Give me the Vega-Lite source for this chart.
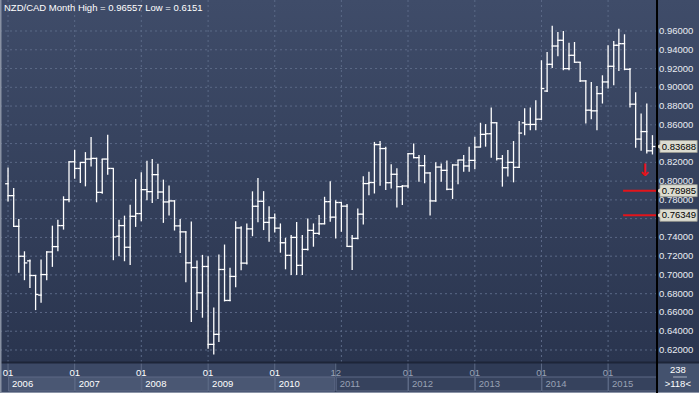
{
 "$schema": "https://vega.github.io/schema/vega-lite/v6.json",
 "padding": 0,
 "autosize": {"type": "none"},
 "width": 699,
 "height": 393,
 "background": "#2f3b56",
 "config": {"view": {"stroke": null}, "font": "Liberation Sans"},
 "view": {"stroke": null, "fill": {"gradient": "linear", "x1": 0, "y1": 0, "x2": 0, "y2": 1, "stops": [{"offset": 0, "color": "#3f4c69"}, {"offset": 0.92, "color": "#2a354f"}, {"offset": 1, "color": "#2a354f"}]}},
 "datasets": {
  "ohlc": [
   {"d":"2006-01-01","o":0.7972,"h":0.8146,"l":0.7784,"c":0.7845},
   {"d":"2006-02-01","o":0.7845,"h":0.7926,"l":0.7510,"c":0.7518},
   {"d":"2006-03-01","o":0.7518,"h":0.7596,"l":0.7022,"c":0.7199},
   {"d":"2006-04-01","o":0.7199,"h":0.7252,"l":0.6944,"c":0.7128},
   {"d":"2006-05-01","o":0.7150,"h":0.7164,"l":0.6862,"c":0.6994},
   {"d":"2006-06-01","o":0.6994,"h":0.7000,"l":0.6625,"c":0.6792},
   {"d":"2006-07-01","o":0.6785,"h":0.7164,"l":0.6703,"c":0.7004},
   {"d":"2006-08-01","o":0.7004,"h":0.7252,"l":0.6944,"c":0.7245},
   {"d":"2006-09-01","o":0.7245,"h":0.7525,"l":0.7086,"c":0.7302},
   {"d":"2006-10-01","o":0.7302,"h":0.7589,"l":0.7252,"c":0.7526},
   {"d":"2006-11-01","o":0.7526,"h":0.7838,"l":0.7483,"c":0.7802},
   {"d":"2006-12-01","o":0.7802,"h":0.8210,"l":0.7774,"c":0.8206},
   {"d":"2007-01-01","o":0.8206,"h":0.8334,"l":0.8026,"c":0.8135},
   {"d":"2007-02-01","o":0.8135,"h":0.8199,"l":0.7979,"c":0.8199},
   {"d":"2007-03-01","o":0.8199,"h":0.8309,"l":0.7944,"c":0.8235},
   {"d":"2007-04-01","o":0.8235,"h":0.8469,"l":0.8157,"c":0.8242},
   {"d":"2007-05-01","o":0.8242,"h":0.8250,"l":0.7774,"c":0.7880},
   {"d":"2007-06-01","o":0.7880,"h":0.8235,"l":0.7865,"c":0.8235},
   {"d":"2007-07-01","o":0.8235,"h":0.8494,"l":0.8068,"c":0.8135},
   {"d":"2007-08-01","o":0.8135,"h":0.8140,"l":0.7157,"c":0.7405},
   {"d":"2007-09-01","o":0.7412,"h":0.7589,"l":0.7199,"c":0.7526},
   {"d":"2007-10-01","o":0.7526,"h":0.7632,"l":0.7146,"c":0.7295},
   {"d":"2007-11-01","o":0.7295,"h":0.7749,"l":0.7107,"c":0.7625},
   {"d":"2007-12-01","o":0.7625,"h":0.8023,"l":0.7512,"c":0.7654},
   {"d":"2008-01-01","o":0.7654,"h":0.8094,"l":0.7572,"c":0.7909},
   {"d":"2008-02-01","o":0.7909,"h":0.8218,"l":0.7796,"c":0.7888},
   {"d":"2008-03-01","o":0.7888,"h":0.8235,"l":0.7767,"c":0.8069},
   {"d":"2008-04-01","o":0.8069,"h":0.8186,"l":0.7810,"c":0.7884},
   {"d":"2008-05-01","o":0.7884,"h":0.8016,"l":0.7555,"c":0.7778},
   {"d":"2008-06-01","o":0.7778,"h":0.7952,"l":0.7633,"c":0.7789},
   {"d":"2008-07-01","o":0.7789,"h":0.7795,"l":0.7473,"c":0.7523},
   {"d":"2008-08-01","o":0.7523,"h":0.7597,"l":0.7235,"c":0.7459},
   {"d":"2008-09-01","o":0.7459,"h":0.7465,"l":0.6923,"c":0.7129},
   {"d":"2008-10-01","o":0.7129,"h":0.7569,"l":0.6498,"c":0.7079},
   {"d":"2008-11-01","o":0.7079,"h":0.7154,"l":0.6626,"c":0.6810},
   {"d":"2008-12-01","o":0.6810,"h":0.7214,"l":0.6544,"c":0.7090},
   {"d":"2009-01-01","o":0.7090,"h":0.7200,"l":0.6214,"c":0.6260},
   {"d":"2009-02-01","o":0.6260,"h":0.6654,"l":0.6151,"c":0.6367},
   {"d":"2009-03-01","o":0.6367,"h":0.7218,"l":0.6285,"c":0.7058},
   {"d":"2009-04-01","o":0.7058,"h":0.7324,"l":0.6718,"c":0.6728},
   {"d":"2009-05-01","o":0.6728,"h":0.7076,"l":0.6720,"c":0.6984},
   {"d":"2009-06-01","o":0.6984,"h":0.7572,"l":0.6870,"c":0.7501},
   {"d":"2009-07-01","o":0.7501,"h":0.7519,"l":0.7051,"c":0.7126},
   {"d":"2009-08-01","o":0.7126,"h":0.7548,"l":0.7111,"c":0.7491},
   {"d":"2009-09-01","o":0.7491,"h":0.7891,"l":0.7413,"c":0.7732},
   {"d":"2009-10-01","o":0.7732,"h":0.8033,"l":0.7562,"c":0.7785},
   {"d":"2009-11-01","o":0.7785,"h":0.7893,"l":0.7478,"c":0.7560},
   {"d":"2009-12-01","o":0.7560,"h":0.7733,"l":0.7354,"c":0.7609},
   {"d":"2010-01-01","o":0.7609,"h":0.7655,"l":0.7453,"c":0.7499},
   {"d":"2010-02-01","o":0.7499,"h":0.7549,"l":0.7237,"c":0.7343},
   {"d":"2010-03-01","o":0.7343,"h":0.7396,"l":0.7060,"c":0.7209},
   {"d":"2010-04-01","o":0.7209,"h":0.7425,"l":0.6999,"c":0.7400},
   {"d":"2010-05-01","o":0.7400,"h":0.7563,"l":0.6999,"c":0.7102},
   {"d":"2010-06-01","o":0.7102,"h":0.7425,"l":0.6999,"c":0.7272},
   {"d":"2010-07-01","o":0.7272,"h":0.7602,"l":0.7260,"c":0.7475},
   {"d":"2010-08-01","o":0.7475,"h":0.7549,"l":0.7301,"c":0.7443},
   {"d":"2010-09-01","o":0.7443,"h":0.7638,"l":0.7425,"c":0.7545},
   {"d":"2010-10-01","o":0.7545,"h":0.7833,"l":0.7540,"c":0.7781},
   {"d":"2010-11-01","o":0.7781,"h":0.7999,"l":0.7567,"c":0.7616},
   {"d":"2010-12-01","o":0.7616,"h":0.7797,"l":0.7389,"c":0.7772},
   {"d":"2011-01-01","o":0.7772,"h":0.7776,"l":0.7460,"c":0.7733},
   {"d":"2011-02-01","o":0.7733,"h":0.7755,"l":0.7301,"c":0.7304},
   {"d":"2011-03-01","o":0.7304,"h":0.7425,"l":0.7053,"c":0.7389},
   {"d":"2011-04-01","o":0.7389,"h":0.7709,"l":0.7380,"c":0.7648},
   {"d":"2011-05-01","o":0.7648,"h":0.8052,"l":0.7538,"c":0.7974},
   {"d":"2011-06-01","o":0.7974,"h":0.8099,"l":0.7850,"c":0.7985},
   {"d":"2011-07-01","o":0.7985,"h":0.8418,"l":0.7868,"c":0.8389},
   {"d":"2011-08-01","o":0.8389,"h":0.8428,"l":0.7950,"c":0.8347},
   {"d":"2011-09-01","o":0.8347,"h":0.8365,"l":0.7904,"c":0.7983},
   {"d":"2011-10-01","o":0.7983,"h":0.8180,"l":0.7921,"c":0.8073},
   {"d":"2011-11-01","o":0.8073,"h":0.8136,"l":0.7718,"c":0.7941},
   {"d":"2011-12-01","o":0.7941,"h":0.7959,"l":0.7746,"c":0.7948},
   {"d":"2012-01-01","o":0.7948,"h":0.8296,"l":0.7923,"c":0.8292},
   {"d":"2012-02-01","o":0.8292,"h":0.8402,"l":0.8243,"c":0.8250},
   {"d":"2012-03-01","o":0.8250,"h":0.8278,"l":0.7994,"c":0.8165},
   {"d":"2012-04-01","o":0.8165,"h":0.8278,"l":0.7977,"c":0.8087},
   {"d":"2012-05-01","o":0.8087,"h":0.8095,"l":0.7633,"c":0.7789},
   {"d":"2012-06-01","o":0.7789,"h":0.8200,"l":0.7780,"c":0.8150},
   {"d":"2012-07-01","o":0.8150,"h":0.8189,"l":0.7994,"c":0.8115},
   {"d":"2012-08-01","o":0.8115,"h":0.8221,"l":0.7902,"c":0.7913},
   {"d":"2012-09-01","o":0.7913,"h":0.8179,"l":0.7810,"c":0.8172},
   {"d":"2012-10-01","o":0.8172,"h":0.8225,"l":0.7966,"c":0.8225},
   {"d":"2012-11-01","o":0.8225,"h":0.8278,"l":0.8101,"c":0.8161},
   {"d":"2012-12-01","o":0.8161,"h":0.8367,"l":0.8101,"c":0.8221},
   {"d":"2013-01-01","o":0.8221,"h":0.8473,"l":0.8126,"c":0.8363},
   {"d":"2013-02-01","o":0.8363,"h":0.8622,"l":0.8360,"c":0.8498},
   {"d":"2013-03-01","o":0.8498,"h":0.8608,"l":0.8367,"c":0.8505},
   {"d":"2013-04-01","o":0.8505,"h":0.8785,"l":0.8250,"c":0.8622},
   {"d":"2013-05-01","o":0.8622,"h":0.8625,"l":0.8221,"c":0.8239},
   {"d":"2013-06-01","o":0.8239,"h":0.8278,"l":0.7941,"c":0.8143},
   {"d":"2013-07-01","o":0.8143,"h":0.8331,"l":0.8048,"c":0.8200},
   {"d":"2013-08-01","o":0.8200,"h":0.8427,"l":0.7987,"c":0.8147},
   {"d":"2013-09-01","o":0.8147,"h":0.8640,"l":0.8140,"c":0.8512},
   {"d":"2013-10-01","o":0.8621,"h":0.8776,"l":0.8490,"c":0.8604},
   {"d":"2013-11-01","o":0.8604,"h":0.8784,"l":0.8543,"c":0.8604},
   {"d":"2013-12-01","o":0.8604,"h":0.8862,"l":0.8543,"c":0.8660},
   {"d":"2014-01-01","o":0.8660,"h":0.9288,"l":0.8655,"c":0.8987},
   {"d":"2014-02-01","o":0.8960,"h":0.9377,"l":0.8950,"c":0.9245},
   {"d":"2014-03-01","o":0.9245,"h":0.96557,"l":0.9206,"c":0.9440},
   {"d":"2014-04-01","o":0.9440,"h":0.9589,"l":0.9331,"c":0.9501},
   {"d":"2014-05-01","o":0.9501,"h":0.9600,"l":0.9182,"c":0.9199},
   {"d":"2014-06-01","o":0.9199,"h":0.9476,"l":0.9182,"c":0.9341},
   {"d":"2014-07-01","o":0.9341,"h":0.9483,"l":0.9263,"c":0.9267},
   {"d":"2014-08-01","o":0.9267,"h":0.9270,"l":0.9057,"c":0.9068},
   {"d":"2014-09-01","o":0.9068,"h":0.9075,"l":0.8614,"c":0.8756},
   {"d":"2014-10-01","o":0.8756,"h":0.9057,"l":0.8660,"c":0.8749},
   {"d":"2014-11-01","o":0.8749,"h":0.9015,"l":0.8543,"c":0.8933},
   {"d":"2014-12-01","o":0.8933,"h":0.9128,"l":0.8827,"c":0.9057},
   {"d":"2015-01-01","o":0.9057,"h":0.9448,"l":0.8987,"c":0.9224},
   {"d":"2015-02-01","o":0.9224,"h":0.9494,"l":0.9022,"c":0.9448},
   {"d":"2015-03-01","o":0.9448,"h":0.9625,"l":0.9174,"c":0.9465},
   {"d":"2015-04-01","o":0.9465,"h":0.9565,"l":0.9182,"c":0.9192},
   {"d":"2015-05-01","o":0.9192,"h":0.9206,"l":0.8784,"c":0.8820},
   {"d":"2015-06-01","o":0.8820,"h":0.8948,"l":0.8355,"c":0.8448},
   {"d":"2015-07-01","o":0.8448,"h":0.8721,"l":0.8323,"c":0.8528},
   {"d":"2015-08-01","o":0.8528,"h":0.8827,"l":0.8295,"c":0.8323},
   {"d":"2015-09-01","o":0.8323,"h":0.8490,"l":0.8284,"c":0.83688}
  ],
  "grid": [{"g":0.62},{"g":0.64},{"g":0.66},{"g":0.68},{"g":0.70},{"g":0.72},{"g":0.74},{"g":0.76},{"g":0.78},{"g":0.80},{"g":0.82},{"g":0.84},{"g":0.86},{"g":0.88},{"g":0.90},{"g":0.92},{"g":0.94},{"g":0.96}],
  "years": [
   {"y": "2006", "s": "2006-01-01", "e": "2007-01-01", "f": "a", "t": "01"},
   {"y": "2007", "s": "2007-01-01", "e": "2008-01-01", "f": "a", "t": "01"},
   {"y": "2008", "s": "2008-01-01", "e": "2009-01-01", "f": "a", "t": "01"},
   {"y": "2009", "s": "2009-01-01", "e": "2010-01-01", "f": "a", "t": "01"},
   {"y": "2010", "s": "2010-01-01", "e": "2010-11-26", "f": "a", "t": "01"},
   {"y": "2011", "s": "2010-12-01", "e": "2012-01-01", "f": "b", "t": "12"},
   {"y": "2012", "s": "2012-01-01", "e": "2013-01-01", "f": "b", "t": "01"},
   {"y": "2013", "s": "2013-01-01", "e": "2014-01-01", "f": "b", "t": "01"},
   {"y": "2014", "s": "2014-01-01", "e": "2015-01-01", "f": "b", "t": "01"},
   {"y": "2015", "s": "2015-01-01", "e": "2015-09-26", "f": "b", "t": "01"}
  ]
 },
 "resolve": {"scale": {"y": "independent"}},
 "layer": [
  {
   "layer": [
    {
     "data": {"name": "grid"},
     "mark": {"type": "rule", "color": "#5b6987", "strokeWidth": 1, "strokeDash": [2, 3]},
     "encoding": {
      "y": {"field": "g", "type": "quantitative", "axis": null,
            "scale": {"domain": [0.57416, 0.99304], "nice": false, "zero": false}},
      "x": {"datum": {"year": 2005, "month": 11, "date": 18, "utc": true}, "type": "temporal", "axis": null,
            "scale": {"type": "utc", "domain": [{"year": 2005, "month": 11, "date": 18, "utc": true}, {"year": 2016, "month": 5, "date": 13, "utc": true}]}},
      "x2": {"datum": {"year": 2015, "month": 9, "date": 26, "utc": true}}
     }
    },
    {
     "data": {"name": "years"},
     "transform": [{"filter": "datum.y !== '2011'"}],
     "mark": {"type": "rule", "color": "#5b6987", "strokeWidth": 1, "strokeDash": [2, 3]},
     "encoding": {
      "x": {"field": "s", "type": "temporal", "axis": null},
      "y": {"datum": 0.6072, "type": "quantitative", "axis": null},
      "y2": {"datum": 0.99304}
     }
    },
    {
     "data": {"values": [{"d": "2011-01-01"}]},
     "mark": {"type": "rule", "color": "#5b6987", "strokeWidth": 1, "strokeDash": [2, 3]},
     "encoding": {
      "x": {"field": "d", "type": "temporal", "axis": null},
      "y": {"datum": 0.6072, "type": "quantitative", "axis": null},
      "y2": {"datum": 0.99304}
     }
    },
    {
     "data": {"name": "ohlc"},
     "mark": {"type": "rule", "color": "#ffffff", "strokeWidth": 1.3},
     "encoding": {
      "x": {"field": "d", "type": "temporal", "axis": null},
      "y": {"field": "l", "type": "quantitative", "axis": null},
      "y2": {"field": "h"}
     }
    },
    {
     "data": {"name": "ohlc"},
     "mark": {"type": "rule", "color": "#ffffff", "strokeWidth": 1.3, "xOffset": -2.9, "x2Offset": 0.6},
     "encoding": {
      "x": {"field": "d", "type": "temporal", "axis": null},
      "x2": {"field": "d"},
      "y": {"field": "o", "type": "quantitative", "axis": null}
     }
    },
    {
     "data": {"name": "ohlc"},
     "mark": {"type": "rule", "color": "#ffffff", "strokeWidth": 1.3, "xOffset": -0.6, "x2Offset": 2.9},
     "encoding": {
      "x": {"field": "d", "type": "temporal", "axis": null},
      "x2": {"field": "d"},
      "y": {"field": "c", "type": "quantitative", "axis": null}
     }
    },
    {
     "data": {"name": "grid"},
     "transform": [{"filter": "datum.g !== 0.84 && datum.g !== 0.76"}],
     "mark": {"type": "text", "align": "left", "baseline": "middle", "color": "#e9ecf2", "fontSize": 9.5, "font": "Liberation Sans"},
     "encoding": {
      "x": {"datum": {"year": 2015, "month": 10, "date": 7, "utc": true}, "type": "temporal", "axis": null},
      "y": {"field": "g", "type": "quantitative", "axis": null},
      "text": {"field": "g", "type": "quantitative", "format": ".5f"}
     }
    },
    {
     "data": {"values": [{"p": 0.78985}, {"p": 0.76349}]},
     "mark": {"type": "rule", "color": "#e3141b", "strokeWidth": 2},
     "encoding": {
      "y": {"field": "p", "type": "quantitative", "axis": null},
      "x": {"datum": {"year": 2015, "month": 3, "date": 24, "utc": true}, "type": "temporal", "axis": null},
      "x2": {"datum": {"year": 2015, "month": 9, "date": 26, "utc": true}}
     }
    },
    {
     "data": {"values": [{"p": 0.83688, "t": "0.83688"}, {"p": 0.78985, "t": "0.78985"}, {"p": 0.76349, "t": "0.76349"}]},
     "layer": [
      {
       "mark": {"type": "rect", "fill": "#dcdcd0", "stroke": "#9a9a90", "strokeWidth": 0.8, "yOffset": -6, "y2Offset": 6},
       "encoding": {
        "x": {"datum": {"year": 2015, "month": 10, "date": 12, "utc": true}, "type": "temporal", "axis": null},
        "x2": {"datum": {"year": 2016, "month": 5, "date": 3, "utc": true}},
        "y": {"field": "p", "type": "quantitative", "axis": null},
        "y2": {"field": "p"}
       }
      },
      {
       "mark": {"type": "point", "shape": "triangle-left", "filled": true, "color": "#dcdcd0", "size": 30, "opacity": 1},
       "encoding": {
        "x": {"datum": {"year": 2015, "month": 10, "date": 4, "utc": true}, "type": "temporal", "axis": null},
        "y": {"field": "p", "type": "quantitative", "axis": null}
       }
      },
      {
       "mark": {"type": "text", "align": "left", "baseline": "middle", "color": "#000000", "fontSize": 9.5, "font": "Liberation Sans"},
       "encoding": {
        "x": {"datum": {"year": 2015, "month": 10, "date": 22, "utc": true}, "type": "temporal", "axis": null},
        "y": {"field": "p", "type": "quantitative", "axis": null},
        "text": {"field": "t"}
       }
      }
     ]
    },
    {
     "data": {"values": [{"t": "↓"}]},
     "mark": {"type": "text", "color": "#e3141b", "fontSize": 17, "fontWeight": "bold", "font": "DejaVu Sans", "baseline": "middle", "align": "center"},
     "encoding": {
      "x": {"datum": {"year": 2015, "month": 7, "date": 21, "utc": true}, "type": "temporal", "axis": null},
      "y": {"datum": 0.8105, "type": "quantitative", "axis": null},
      "text": {"field": "t"}
     }
    },
    {
     "data": {"values": [{"t": "NZD/CAD Month High = 0.96557 Low = 0.6151"}]},
     "mark": {"type": "text", "align": "left", "baseline": "middle", "color": "#ffffff", "fontSize": 9.5, "font": "Liberation Sans", "dx": 4, "dy": 8},
     "encoding": {
      "x": {"datum": {"year": 2005, "month": 11, "date": 18, "utc": true}, "type": "temporal", "axis": null},
      "y": {"datum": 0.99304, "type": "quantitative", "axis": null},
      "text": {"field": "t"}
     }
    }
   ]
  },
  {
   "layer": [
    {
     "data": {"values": [{}]},
     "mark": {"type": "rect", "fill": "#3c4966"},
     "encoding": {
      "x": {"datum": {"year": 2005, "month": 11, "date": 18, "utc": true}, "type": "temporal", "axis": null},
      "x2": {"datum": {"year": 2015, "month": 9, "date": 26, "utc": true}},
      "y": {"datum": 0, "type": "quantitative", "axis": null, "scale": {"domain": [-362, 31], "reverse": true, "nice": false, "zero": false}},
      "y2": {"datum": 31}
     }
    },
    {
     "data": {"values": [{}]},
     "mark": {"type": "rect", "fill": "#2f3b56"},
     "encoding": {
      "x": {"datum": {"year": 2010, "month": 11, "date": 26, "utc": true}, "type": "temporal", "axis": null},
      "x2": {"datum": {"year": 2015, "month": 9, "date": 26, "utc": true}},
      "y": {"datum": 0, "type": "quantitative", "axis": null},
      "y2": {"datum": 31}
     }
    },
    {
     "data": {"name": "years"},
     "mark": {"type": "rule", "color": "#5e6b86", "strokeWidth": 1},
     "encoding": {
      "x": {"field": "s", "type": "temporal", "axis": null},
      "y": {"datum": 0, "type": "quantitative", "axis": null},
      "y2": {"datum": 15}
     }
    },
    {
     "data": {"name": "years"},
     "mark": {"type": "rect", "strokeWidth": 1, "stroke": "#5c6985", "xOffset": 0.5},
     "encoding": {
      "x": {"field": "s", "type": "temporal", "axis": null},
      "x2": {"field": "e"},
      "y": {"datum": 15, "type": "quantitative", "axis": null},
      "y2": {"datum": 29},
      "fill": {"field": "f", "type": "nominal", "scale": {"domain": ["a", "b"], "range": ["#4a5773", "#36425d"]}, "legend": null}
     }
    },
    {
     "data": {"name": "years"},
     "mark": {"type": "text", "align": "left", "baseline": "middle", "fontSize": 9.5, "font": "Liberation Sans", "dx": 4},
     "encoding": {
      "x": {"field": "s", "type": "temporal", "axis": null},
      "y": {"datum": 22, "type": "quantitative", "axis": null},
      "text": {"field": "y"},
      "color": {"field": "f", "type": "nominal", "scale": {"domain": ["a", "b"], "range": ["#ffffff", "#98a1b4"]}, "legend": null}
     }
    },
    {
     "data": {"name": "years"},
     "mark": {"type": "text", "align": "center", "baseline": "middle", "fontSize": 9.5, "font": "Liberation Sans"},
     "encoding": {
      "x": {"field": "s", "type": "temporal", "axis": null},
      "y": {"datum": 10.5, "type": "quantitative", "axis": null},
      "text": {"field": "t"},
      "color": {"field": "f", "type": "nominal", "legend": null}
     }
    },
    {
     "data": {"values": [{}]},
     "mark": {"type": "rect", "fill": "#44526e"},
     "encoding": {
      "x": {"datum": {"year": 2015, "month": 9, "date": 26, "utc": true}, "type": "temporal", "axis": null},
      "x2": {"datum": {"year": 2016, "month": 5, "date": 13, "utc": true}},
      "y": {"datum": 0, "type": "quantitative", "axis": null},
      "y2": {"datum": 31}
     }
    },
    {
     "data": {"values": [{"t": "238", "r": 8}, {"t": ">118<", "r": 22}]},
     "mark": {"type": "text", "align": "center", "baseline": "middle", "fontSize": 9.5, "font": "Liberation Sans", "color": "#ffffff"},
     "encoding": {
      "x": {"datum": {"year": 2016, "month": 1, "date": 18, "utc": true}, "type": "temporal", "axis": null},
      "y": {"field": "r", "type": "quantitative", "axis": null},
      "text": {"field": "t"}
     }
    },
    {
     "data": {"values": [{}]},
     "mark": {"type": "rule", "color": "#aab2c2", "strokeWidth": 1},
     "encoding": {
      "x": {"datum": {"year": 2015, "month": 12, "date": 23, "utc": true}, "type": "temporal", "axis": null},
      "x2": {"datum": {"year": 2016, "month": 3, "date": 8, "utc": true}},
      "y": {"datum": 15, "type": "quantitative", "axis": null}
     }
    },
    {
     "data": {"values": [{}]},
     "mark": {"type": "rule", "color": "#1d2538", "strokeWidth": 2},
     "encoding": {
      "x": {"datum": {"year": 2005, "month": 11, "date": 18, "utc": true}, "type": "temporal", "axis": null},
      "x2": {"datum": {"year": 2016, "month": 5, "date": 13, "utc": true}},
      "y": {"datum": 0.5, "type": "quantitative", "axis": null}
     }
    },
    {
     "data": {"values": [{}]},
     "mark": {"type": "rule", "color": "#8b94a7", "strokeWidth": 1},
     "encoding": {
      "x": {"datum": {"year": 2005, "month": 11, "date": 18, "utc": true}, "type": "temporal", "axis": null},
      "x2": {"datum": {"year": 2016, "month": 5, "date": 13, "utc": true}},
      "y": {"datum": 30.5, "type": "quantitative", "axis": null}
     }
    },
    {
     "data": {"values": [{}]},
     "mark": {"type": "rule", "color": "#000000", "strokeWidth": 2},
     "encoding": {
      "x": {"datum": {"year": 2015, "month": 9, "date": 26, "utc": true}, "type": "temporal", "axis": null},
      "y": {"datum": -362, "type": "quantitative", "axis": null},
      "y2": {"datum": 31}
     }
    },
    {
     "data": {"values": [{}]},
     "mark": {"type": "rule", "color": "#8891a3", "strokeWidth": 3},
     "encoding": {
      "x": {"datum": {"year": 2005, "month": 11, "date": 18, "utc": true}, "type": "temporal", "axis": null},
      "y": {"datum": -362, "type": "quantitative", "axis": null},
      "y2": {"datum": 31}
     }
    }
   ]
  }
 ]
}
